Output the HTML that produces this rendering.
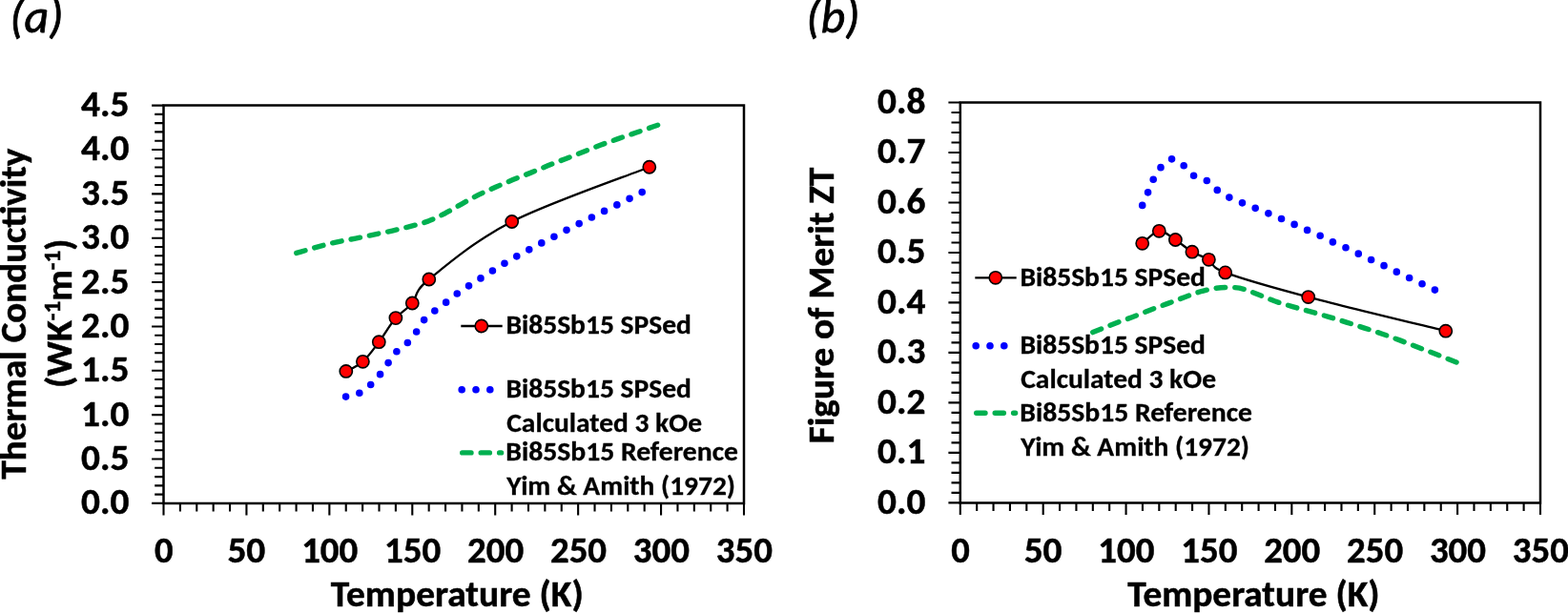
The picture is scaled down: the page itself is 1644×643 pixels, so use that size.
<!DOCTYPE html>
<html><head><meta charset="utf-8"><title>Thermal conductivity and figure of merit</title>
<style>html,body{margin:0;padding:0;background:#fff;width:1644px;height:643px;overflow:hidden;position:relative}</style>
</head><body>
<svg width="1644" height="643" viewBox="0 0 1644 643" style="position:absolute;left:0;top:0">
<rect width="1644" height="643" fill="#fff"/>
<g font-family="Carlito, 'Liberation Sans', sans-serif" font-weight="bold" fill="#000" style="font-size-adjust:cap-height 0.6484">
<path d="M159.1 527.9H171.5M162.2 518.63H171.5M162.2 509.35H171.5M162.2 500.08H171.5M162.2 490.81H171.5M159.1 481.53H171.5M162.2 472.26H171.5M162.2 462.99H171.5M162.2 453.71H171.5M162.2 444.44H171.5M159.1 435.17H171.5M162.2 425.89H171.5M162.2 416.62H171.5M162.2 407.35H171.5M162.2 398.07H171.5M159.1 388.8H171.5M162.2 379.53H171.5M162.2 370.25H171.5M162.2 360.98H171.5M162.2 351.71H171.5M159.1 342.43H171.5M162.2 333.16H171.5M162.2 323.89H171.5M162.2 314.61H171.5M162.2 305.34H171.5M159.1 296.07H171.5M162.2 286.79H171.5M162.2 277.52H171.5M162.2 268.25H171.5M162.2 258.97H171.5M159.1 249.7H171.5M162.2 240.43H171.5M162.2 231.15H171.5M162.2 221.88H171.5M162.2 212.61H171.5M159.1 203.33H171.5M162.2 194.06H171.5M162.2 184.79H171.5M162.2 175.51H171.5M162.2 166.24H171.5M159.1 156.97H171.5M162.2 147.69H171.5M162.2 138.42H171.5M162.2 129.15H171.5M162.2 119.87H171.5M159.1 110.6H171.5M171.5 527.9V540.4M188.89 527.9V536.6M206.27 527.9V536.6M223.66 527.9V536.6M241.04 527.9V536.6M258.43 527.9V540.4M275.81 527.9V536.6M293.2 527.9V536.6M310.59 527.9V536.6M327.97 527.9V536.6M345.36 527.9V540.4M362.74 527.9V536.6M380.13 527.9V536.6M397.51 527.9V536.6M414.9 527.9V536.6M432.29 527.9V540.4M449.67 527.9V536.6M467.06 527.9V536.6M484.44 527.9V536.6M501.83 527.9V536.6M519.21 527.9V540.4M536.6 527.9V536.6M553.99 527.9V536.6M571.37 527.9V536.6M588.76 527.9V536.6M606.14 527.9V540.4M623.53 527.9V536.6M640.91 527.9V536.6M658.3 527.9V536.6M675.69 527.9V536.6M693.07 527.9V540.4M710.46 527.9V536.6M727.84 527.9V536.6M745.23 527.9V536.6M762.61 527.9V536.6M780 527.9V540.4" stroke="#000" stroke-width="2.1" fill="none"/>
<path d="M171.5 527.9V110.6H780V527.9Z" stroke="#000" stroke-width="2.5" fill="none" stroke-linejoin="miter"/>
<path d="M994.4 527.4H1006.8M997.5 516.9H1006.8M997.5 506.4H1006.8M997.5 495.9H1006.8M997.5 485.4H1006.8M994.4 474.91H1006.8M997.5 464.41H1006.8M997.5 453.91H1006.8M997.5 443.41H1006.8M997.5 432.91H1006.8M994.4 422.41H1006.8M997.5 411.91H1006.8M997.5 401.41H1006.8M997.5 390.92H1006.8M997.5 380.42H1006.8M994.4 369.92H1006.8M997.5 359.42H1006.8M997.5 348.92H1006.8M997.5 338.42H1006.8M997.5 327.92H1006.8M994.4 317.42H1006.8M997.5 306.93H1006.8M997.5 296.43H1006.8M997.5 285.93H1006.8M997.5 275.43H1006.8M994.4 264.93H1006.8M997.5 254.43H1006.8M997.5 243.93H1006.8M997.5 233.43H1006.8M997.5 222.94H1006.8M994.4 212.44H1006.8M997.5 201.94H1006.8M997.5 191.44H1006.8M997.5 180.94H1006.8M997.5 170.44H1006.8M994.4 159.94H1006.8M997.5 149.44H1006.8M997.5 138.95H1006.8M997.5 128.45H1006.8M997.5 117.95H1006.8M994.4 107.45H1006.8M1006.8 527.4V539.9M1024.18 527.4V536.1M1041.55 527.4V536.1M1058.93 527.4V536.1M1076.31 527.4V536.1M1093.69 527.4V539.9M1111.06 527.4V536.1M1128.44 527.4V536.1M1145.82 527.4V536.1M1163.19 527.4V536.1M1180.57 527.4V539.9M1197.95 527.4V536.1M1215.33 527.4V536.1M1232.7 527.4V536.1M1250.08 527.4V536.1M1267.46 527.4V539.9M1284.83 527.4V536.1M1302.21 527.4V536.1M1319.59 527.4V536.1M1336.97 527.4V536.1M1354.34 527.4V539.9M1371.72 527.4V536.1M1389.1 527.4V536.1M1406.47 527.4V536.1M1423.85 527.4V536.1M1441.23 527.4V539.9M1458.61 527.4V536.1M1475.98 527.4V536.1M1493.36 527.4V536.1M1510.74 527.4V536.1M1528.11 527.4V539.9M1545.49 527.4V536.1M1562.87 527.4V536.1M1580.25 527.4V536.1M1597.62 527.4V536.1M1615 527.4V539.9" stroke="#000" stroke-width="2.1" fill="none"/>
<path d="M1006.8 527.4V107.45H1615V527.4Z" stroke="#000" stroke-width="2.5" fill="none" stroke-linejoin="miter"/>
<text x="135.4" y="539.4" font-size="38.5" text-anchor="end" textLength="50.31" lengthAdjust="spacingAndGlyphs" stroke="#000" stroke-width="0.5">0.0</text>
<text x="135.4" y="493.03" font-size="38.5" text-anchor="end" textLength="50.31" lengthAdjust="spacingAndGlyphs" stroke="#000" stroke-width="0.5">0.5</text>
<text x="135.4" y="446.67" font-size="38.5" text-anchor="end" textLength="50.31" lengthAdjust="spacingAndGlyphs" stroke="#000" stroke-width="0.5">1.0</text>
<text x="135.4" y="400.3" font-size="38.5" text-anchor="end" textLength="50.31" lengthAdjust="spacingAndGlyphs" stroke="#000" stroke-width="0.5">1.5</text>
<text x="135.4" y="353.93" font-size="38.5" text-anchor="end" textLength="50.31" lengthAdjust="spacingAndGlyphs" stroke="#000" stroke-width="0.5">2.0</text>
<text x="135.4" y="307.57" font-size="38.5" text-anchor="end" textLength="50.31" lengthAdjust="spacingAndGlyphs" stroke="#000" stroke-width="0.5">2.5</text>
<text x="135.4" y="261.2" font-size="38.5" text-anchor="end" textLength="50.31" lengthAdjust="spacingAndGlyphs" stroke="#000" stroke-width="0.5">3.0</text>
<text x="135.4" y="214.83" font-size="38.5" text-anchor="end" textLength="50.31" lengthAdjust="spacingAndGlyphs" stroke="#000" stroke-width="0.5">3.5</text>
<text x="135.4" y="168.47" font-size="38.5" text-anchor="end" textLength="50.31" lengthAdjust="spacingAndGlyphs" stroke="#000" stroke-width="0.5">4.0</text>
<text x="135.4" y="122.1" font-size="38.5" text-anchor="end" textLength="50.31" lengthAdjust="spacingAndGlyphs" stroke="#000" stroke-width="0.5">4.5</text>
<text x="970.4" y="538.9" font-size="38.5" text-anchor="end" textLength="50.31" lengthAdjust="spacingAndGlyphs" stroke="#000" stroke-width="0.5">0.0</text>
<text x="970.4" y="486.41" font-size="38.5" text-anchor="end" textLength="50.31" lengthAdjust="spacingAndGlyphs" stroke="#000" stroke-width="0.5">0.1</text>
<text x="970.4" y="433.91" font-size="38.5" text-anchor="end" textLength="50.31" lengthAdjust="spacingAndGlyphs" stroke="#000" stroke-width="0.5">0.2</text>
<text x="970.4" y="381.42" font-size="38.5" text-anchor="end" textLength="50.31" lengthAdjust="spacingAndGlyphs" stroke="#000" stroke-width="0.5">0.3</text>
<text x="970.4" y="328.92" font-size="38.5" text-anchor="end" textLength="50.31" lengthAdjust="spacingAndGlyphs" stroke="#000" stroke-width="0.5">0.4</text>
<text x="970.4" y="276.43" font-size="38.5" text-anchor="end" textLength="50.31" lengthAdjust="spacingAndGlyphs" stroke="#000" stroke-width="0.5">0.5</text>
<text x="970.4" y="223.94" font-size="38.5" text-anchor="end" textLength="50.31" lengthAdjust="spacingAndGlyphs" stroke="#000" stroke-width="0.5">0.6</text>
<text x="970.4" y="171.44" font-size="38.5" text-anchor="end" textLength="50.31" lengthAdjust="spacingAndGlyphs" stroke="#000" stroke-width="0.5">0.7</text>
<text x="970.4" y="118.95" font-size="38.5" text-anchor="end" textLength="50.31" lengthAdjust="spacingAndGlyphs" stroke="#000" stroke-width="0.5">0.8</text>
<text x="171.8" y="590.2" font-size="38.5" text-anchor="middle" stroke="#000" stroke-width="0.5">0</text>
<text x="258.35" y="590.2" font-size="38.5" text-anchor="middle" textLength="39.85" lengthAdjust="spacingAndGlyphs" stroke="#000" stroke-width="0.5">50</text>
<text x="345.72" y="590.2" font-size="38.5" text-anchor="middle" textLength="59.1" lengthAdjust="spacingAndGlyphs" stroke="#000" stroke-width="0.5">100</text>
<text x="432.65" y="590.2" font-size="38.5" text-anchor="middle" textLength="59.1" lengthAdjust="spacingAndGlyphs" stroke="#000" stroke-width="0.5">150</text>
<text x="519.58" y="590.2" font-size="38.5" text-anchor="middle" textLength="59.1" lengthAdjust="spacingAndGlyphs" stroke="#000" stroke-width="0.5">200</text>
<text x="606.5" y="590.2" font-size="38.5" text-anchor="middle" textLength="59.1" lengthAdjust="spacingAndGlyphs" stroke="#000" stroke-width="0.5">250</text>
<text x="693.43" y="590.2" font-size="38.5" text-anchor="middle" textLength="59.1" lengthAdjust="spacingAndGlyphs" stroke="#000" stroke-width="0.5">300</text>
<text x="780.36" y="590.2" font-size="38.5" text-anchor="middle" textLength="59.1" lengthAdjust="spacingAndGlyphs" stroke="#000" stroke-width="0.5">350</text>
<text x="1007.1" y="590.2" font-size="38.5" text-anchor="middle" stroke="#000" stroke-width="0.5">0</text>
<text x="1093.61" y="590.2" font-size="38.5" text-anchor="middle" textLength="39.85" lengthAdjust="spacingAndGlyphs" stroke="#000" stroke-width="0.5">50</text>
<text x="1180.93" y="590.2" font-size="38.5" text-anchor="middle" textLength="59.1" lengthAdjust="spacingAndGlyphs" stroke="#000" stroke-width="0.5">100</text>
<text x="1267.82" y="590.2" font-size="38.5" text-anchor="middle" textLength="59.1" lengthAdjust="spacingAndGlyphs" stroke="#000" stroke-width="0.5">150</text>
<text x="1354.7" y="590.2" font-size="38.5" text-anchor="middle" textLength="59.1" lengthAdjust="spacingAndGlyphs" stroke="#000" stroke-width="0.5">200</text>
<text x="1441.59" y="590.2" font-size="38.5" text-anchor="middle" textLength="59.1" lengthAdjust="spacingAndGlyphs" stroke="#000" stroke-width="0.5">250</text>
<text x="1528.48" y="590.2" font-size="38.5" text-anchor="middle" textLength="59.1" lengthAdjust="spacingAndGlyphs" stroke="#000" stroke-width="0.5">300</text>
<text x="1615.36" y="590.2" font-size="38.5" text-anchor="middle" textLength="59.1" lengthAdjust="spacingAndGlyphs" stroke="#000" stroke-width="0.5">350</text>
<text x="479.29" y="635.7" font-size="38.5" text-anchor="middle" textLength="264.85" lengthAdjust="spacingAndGlyphs" stroke="#000" stroke-width="0.5">Temperature (K)</text>
<text x="1314.4" y="635.5" font-size="38.5" text-anchor="middle" textLength="264.12" lengthAdjust="spacingAndGlyphs" stroke="#000" stroke-width="0.5">Temperature (K)</text>
<text transform="translate(26.9 329.08) rotate(-90)" font-size="38.5" text-anchor="middle" textLength="346.83" lengthAdjust="spacingAndGlyphs" stroke="#000" stroke-width="0.5">Thermal Conductivity</text>
<text transform="translate(74.9 328.66) rotate(-90)" font-size="38.5" text-anchor="middle" textLength="156.54" lengthAdjust="spacingAndGlyphs" stroke="#000" stroke-width="0.5">(WK<tspan font-size="24" dy="-12">-1</tspan><tspan dy="12">m</tspan><tspan font-size="24" dy="-12">-1</tspan><tspan dy="12">)</tspan></text>
<text transform="translate(873.7 320.4) rotate(-90)" font-size="38.5" text-anchor="middle" textLength="289.83" lengthAdjust="spacingAndGlyphs" stroke="#000" stroke-width="0.5">Figure of Merit ZT</text>
<text x="10.33" y="34.2" font-size="50" font-style="italic" style="font-size-adjust:cap-height 0.6416" font-weight="normal" stroke="#000" stroke-width="0.8">(a)</text>
<text x="845.36" y="34.2" font-size="50" font-style="italic" style="font-size-adjust:cap-height 0.6416" font-weight="normal" stroke="#000" stroke-width="0.8">(b)</text>
<text x="530.45" y="350.2" font-size="28" textLength="194.47" lengthAdjust="spacingAndGlyphs" stroke="#000" stroke-width="0.3">Bi85Sb15 SPSed</text>
<text x="530.45" y="416.8" font-size="28" textLength="194.47" lengthAdjust="spacingAndGlyphs" stroke="#000" stroke-width="0.3">Bi85Sb15 SPSed</text>
<text x="531.27" y="452.8" font-size="28" textLength="204.71" lengthAdjust="spacingAndGlyphs" stroke="#000" stroke-width="0.3">Calculated 3 kOe</text>
<text x="530.29" y="483.2" font-size="28" textLength="243.74" lengthAdjust="spacingAndGlyphs" stroke="#000" stroke-width="0.3">Bi85Sb15 Reference</text>
<text x="531.31" y="519.1" font-size="28" textLength="239.73" lengthAdjust="spacingAndGlyphs" stroke="#000" stroke-width="0.3">Yim &amp; Amith (1972)</text>
<text x="1069.45" y="300.3" font-size="28" textLength="194.47" lengthAdjust="spacingAndGlyphs" stroke="#000" stroke-width="0.3">Bi85Sb15 SPSed</text>
<text x="1069.45" y="370.6" font-size="28" textLength="194.47" lengthAdjust="spacingAndGlyphs" stroke="#000" stroke-width="0.3">Bi85Sb15 SPSed</text>
<text x="1070.27" y="407" font-size="28" textLength="204.71" lengthAdjust="spacingAndGlyphs" stroke="#000" stroke-width="0.3">Calculated 3 kOe</text>
<text x="1069.29" y="441.8" font-size="28" textLength="243.74" lengthAdjust="spacingAndGlyphs" stroke="#000" stroke-width="0.3">Bi85Sb15 Reference</text>
<text x="1070.31" y="477.7" font-size="28" textLength="239.73" lengthAdjust="spacingAndGlyphs" stroke="#000" stroke-width="0.3">Yim &amp; Amith (1972)</text>
</g>
<path d="M310.79 265.45L315.4 264.1 320 262.73M329.69 259.87L334.31 258.57 338.94 257.33M348.74 254.87L353.42 253.8 358.12 252.83M368.06 251.02L372.77 250.13 377.47 249.16M387.35 247.04L392.04 246.03 396.74 245.06M406.64 243.04L411.33 242.02 416.01 240.95M425.83 238.59L430.47 237.38 435.12 236.16M444.83 233.41L449.37 231.84 453.81 230.03M462.93 225.68L467.2 223.49 471.42 221.2M480.16 216.14L484.34 213.78 488.54 211.45M497.4 206.62L501.67 204.42 505.99 202.32M515.21 198.2L519.61 196.28 524.01 194.36M533.29 190.39L537.73 188.55 542.18 186.77M551.61 183.13L556.07 181.37 560.52 179.56M569.84 175.69L574.29 173.87 578.74 172.08M588.15 168.39L592.62 166.65 597.1 164.93M606.53 161.32L611.01 159.58 615.47 157.81M624.85 154.06L629.32 152.33 633.82 150.65M643.33 147.24L647.85 145.65 652.39 144.07M661.95 140.82L666.49 139.27 671.03 137.69M680.57 134.38L685.1 132.8 689.63 131.22" stroke="#00B050" stroke-width="5.4" stroke-linecap="round" stroke-linejoin="round" fill="none"/>
<path d="M1145.75 348.59L1150.2 346.8 1154.65 344.99M1163.98 341.23L1168.45 339.48 1172.94 337.8M1182.4 334.37L1186.9 332.7 1191.37 330.96M1200.72 327.23L1205.19 325.48 1209.67 323.78M1219.11 320.28L1223.61 318.61 1228.1 316.92M1237.52 313.39L1242.02 311.74 1246.53 310.08M1255.99 306.66L1260.59 305.28 1265.25 304.13M1275.13 302.29L1279.91 301.79 1284.7 301.5M1294.75 301.6L1299.51 302.18 1304.18 303.29M1313.62 306.76L1318.09 308.5 1322.56 310.25M1331.86 314.1L1336.34 315.81 1340.89 317.34M1350.53 320.22L1355.14 321.55 1359.75 322.89M1369.44 325.6L1374.06 326.9 1378.67 328.22M1388.35 330.98L1392.95 332.33 1397.55 333.7M1407.18 336.63L1411.76 338.06 1416.34 339.5M1425.92 342.58L1430.48 344.06 1435.05 345.54M1444.61 348.67L1449.15 350.21 1453.68 351.8M1463.14 355.23L1467.64 356.9 1472.13 358.6M1481.52 362.21L1486 363.94 1490.47 365.67M1499.85 369.31L1504.32 371.05 1508.79 372.81M1518.14 376.53L1522.6 378.3 1527.06 380.07" stroke="#00B050" stroke-width="5.4" stroke-linecap="round" stroke-linejoin="round" fill="none"/>
<path d="M362.6 416.1h0M376.83 412.28h0M388.67 403.55h0M398.58 392.63h0M407.11 380.58h0M415.88 368.72h0M427.35 359.45h0M436.64 348h0M444.63 335.62h0M455.82 326.02h0M467.64 317.16h0M479.26 308.07h0M491.53 299.85h0M503.97 291.89h0M516.42 283.96h0M528.97 276.2h0M541.78 268.85h0M554.78 261.86h0M567.8 254.9h0M580.95 248.18h0M594.03 241.33h0M607.18 234.61h0M620.4 228.05h0M633.59 221.41h0M646.85 214.92h0M660.08 208.36h0M673.2 201.6h0" stroke="#0000FF" stroke-width="7.6" stroke-linecap="round" fill="none"/>
<path d="M1197.7 215.4h0M1203.58 201.84h0M1209.2 188.18h0M1216.98 175.66h0M1228.54 166.85h0M1241.18 173.78h0M1251.58 184.22h0M1265.32 189.51h0M1276.26 199.39h0M1288.86 207.08h0M1302.47 212.83h0M1316.19 218.33h0M1329.9 223.84h0M1343.53 229.55h0M1357.1 235.4h0M1370.61 241.4h0M1384.16 247.28h0M1397.4 253.85h0M1410.98 259.69h0M1424.27 266.14h0M1437.63 272.46h0M1451.04 278.67h0M1464.32 285.16h0M1477.65 291.53h0M1491.04 297.78h0M1504.4 304.1h0" stroke="#0000FF" stroke-width="7.6" stroke-linecap="round" fill="none"/>
<path d="M362.8 389.45C365.73 387.76 374.65 384.43 380.4 379.3C386.15 374.18 391.55 366.32 397.3 358.7C403.05 351.08 409.07 340.38 414.9 333.6C420.73 326.82 426.48 324.77 432.3 318C438.12 311.23 432.4 307.25 449.8 293C467.2 278.75 498.2 252.12 536.7 232.5C575.2 212.88 656.78 184.79 680.8 175.25" stroke="#000" stroke-width="2.3" fill="none"/>
<path d="M1197.7 255.3C1200.63 253.13 1209.52 242.93 1215.3 242.3C1221.08 241.67 1226.63 247.85 1232.4 251.5C1238.17 255.15 1244.07 260.73 1249.9 264.2C1255.73 267.67 1261.6 268.68 1267.4 272.3C1273.2 275.92 1267.32 279.36 1284.7 285.9C1302.08 292.44 1333.18 301.33 1371.7 311.55C1410.22 321.77 1491.78 341.26 1515.8 347.2" stroke="#000" stroke-width="2.3" fill="none"/>
<circle cx="362.8" cy="389.45" r="6.6" fill="#FF0000" stroke="#000" stroke-width="1.6"/>
<circle cx="380.4" cy="379.3" r="6.6" fill="#FF0000" stroke="#000" stroke-width="1.6"/>
<circle cx="397.3" cy="358.7" r="6.6" fill="#FF0000" stroke="#000" stroke-width="1.6"/>
<circle cx="414.9" cy="333.6" r="6.6" fill="#FF0000" stroke="#000" stroke-width="1.6"/>
<circle cx="432.3" cy="318" r="6.6" fill="#FF0000" stroke="#000" stroke-width="1.6"/>
<circle cx="449.8" cy="293" r="6.6" fill="#FF0000" stroke="#000" stroke-width="1.6"/>
<circle cx="536.7" cy="232.5" r="6.6" fill="#FF0000" stroke="#000" stroke-width="1.6"/>
<circle cx="680.8" cy="175.25" r="6.6" fill="#FF0000" stroke="#000" stroke-width="1.6"/>
<circle cx="1197.7" cy="255.3" r="6.6" fill="#FF0000" stroke="#000" stroke-width="1.6"/>
<circle cx="1215.3" cy="242.3" r="6.6" fill="#FF0000" stroke="#000" stroke-width="1.6"/>
<circle cx="1232.4" cy="251.5" r="6.6" fill="#FF0000" stroke="#000" stroke-width="1.6"/>
<circle cx="1249.9" cy="264.2" r="6.6" fill="#FF0000" stroke="#000" stroke-width="1.6"/>
<circle cx="1267.4" cy="272.3" r="6.6" fill="#FF0000" stroke="#000" stroke-width="1.6"/>
<circle cx="1284.7" cy="285.9" r="6.6" fill="#FF0000" stroke="#000" stroke-width="1.6"/>
<circle cx="1371.7" cy="311.55" r="6.6" fill="#FF0000" stroke="#000" stroke-width="1.6"/>
<circle cx="1515.8" cy="347.2" r="6.6" fill="#FF0000" stroke="#000" stroke-width="1.6"/>
<path d="M483.3 342H526.7" stroke="#000" stroke-width="2.3"/>
<circle cx="504.8" cy="342" r="6.6" fill="#FF0000" stroke="#000" stroke-width="1.6"/>
<path d="M484.2 408.7h0M499 408.7h0M513.8 408.7h0" stroke="#0000FF" stroke-width="7.6" stroke-linecap="round" fill="none"/>
<path d="M484.7 474.9H494M504.2 474.9H513.4M523.6 474.9H525.6" stroke="#00B050" stroke-width="5.4" stroke-linecap="round" fill="none"/>
<path d="M1022.3 291.3H1065.7" stroke="#000" stroke-width="2.3"/>
<circle cx="1043.8" cy="291.3" r="6.6" fill="#FF0000" stroke="#000" stroke-width="1.6"/>
<path d="M1023.2 362.7h0M1038 362.7h0M1052.8 362.7h0" stroke="#0000FF" stroke-width="7.6" stroke-linecap="round" fill="none"/>
<path d="M1023.7 433.3H1033M1043.2 433.3H1052.4M1062.6 433.3H1064.6" stroke="#00B050" stroke-width="5.4" stroke-linecap="round" fill="none"/>
</svg>
</body></html>
